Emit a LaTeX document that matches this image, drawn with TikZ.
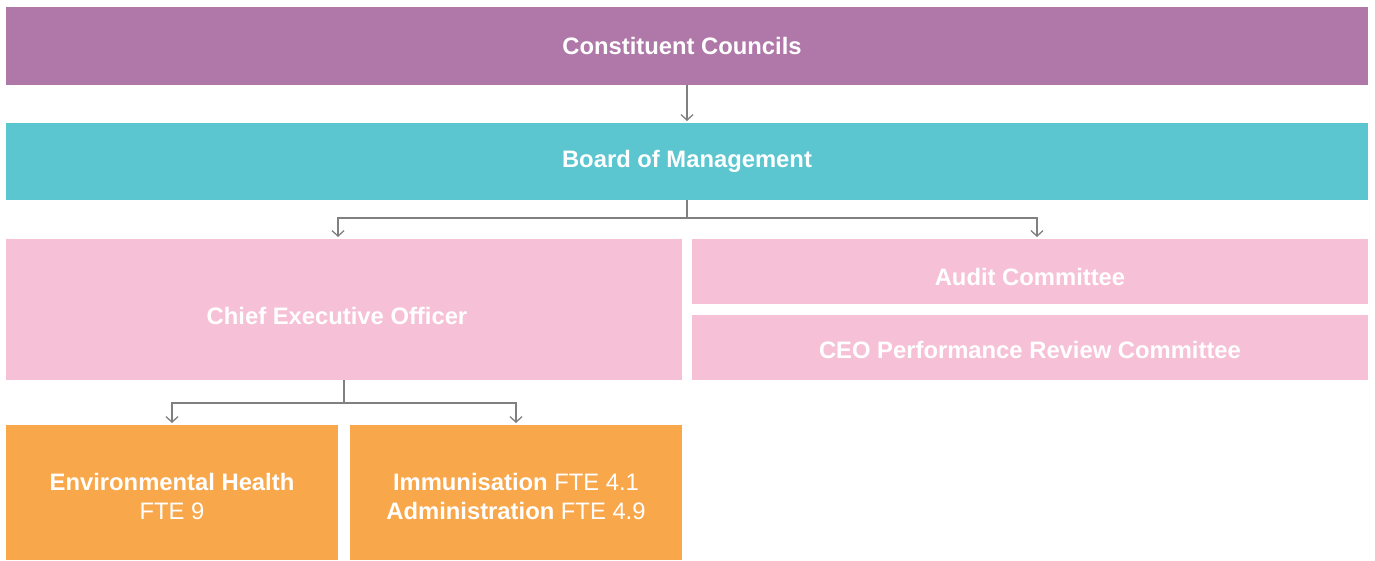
\documentclass[tikz,border=0pt]{standalone}
\usepackage{fontspec}
\setmainfont{Liberation Sans}
\usetikzlibrary{arrows.meta}
\definecolor{cpurple}{HTML}{AF78A9}
\definecolor{cteal}{HTML}{5BC5D0}
\definecolor{cpink}{HTML}{F6C1D7}
\definecolor{corange}{HTML}{F9A74B}
\definecolor{cline}{HTML}{808080}
\begin{document}
\begin{tikzpicture}[x=1pt,y=-1pt,
  box/.style={draw=none,inner sep=0pt,outer sep=0pt,text=white,align=center,
    font=\fontsize{23.8}{29}\selectfont\bfseries},
  conn/.style={draw=cline,line width=1.3pt},
  arr/.style={conn,-{Straight Barb[length=5.5pt,width=12pt,line width=1.3pt]}}]
\useasboundingbox (0,0) rectangle (1375,560);
\fill[white] (0,0) rectangle (1375,560);
\fill[cpurple] (6,7) rectangle (1368,85);
\node[box] (cc) at (682,46) {Constituent Councils};
\fill[cteal] (6,123) rectangle (1368,200);
\node[box] (bm) at (687,161) {Board of Management};
\fill[cpink] (6,239) rectangle (682,380);
\node[box] (ceo) at (337,316) {Chief Executive Officer};
\fill[cpink] (692,239) rectangle (1368,304);
\node[box] (aud) at (1030,277) {Audit Committee};
\fill[cpink] (692,315) rectangle (1368,380);
\node[box] (perf) at (1030,350) {CEO Performance Review Committee};
\fill[corange] (6,425) rectangle (338,560);
\node[box] (env) at (172,496) {Environmental Health\\{\mdseries FTE 9}};
\fill[corange] (350,425) rectangle (682,560);
\node[box] (imm) at (516,496) {Immunisation {\mdseries FTE 4.1}\\Administration {\mdseries FTE 4.9}};
% connector endpoints
\coordinate (ccb) at (687,85);
\coordinate (bmt) at (687,121);
\coordinate (bmb) at (687,200);
\coordinate (j1) at (687,218);
\coordinate (ceot) at (338,237);
\coordinate (audt) at (1037,237);
\coordinate (ceob) at (344,380);
\coordinate (j2) at (344,403);
\coordinate (envt) at (172,423);
\coordinate (immt) at (516,423);
\draw[arr] (ccb) -- (bmt);
\draw[conn] (bmb) -- (j1);
\draw[arr] (j1) -| (ceot);
\draw[arr] (j1) -| (audt);
\draw[conn] (ceob) -- (j2);
\draw[arr] (j2) -| (envt);
\draw[arr] (j2) -| (immt);
\end{tikzpicture}
\end{document}
